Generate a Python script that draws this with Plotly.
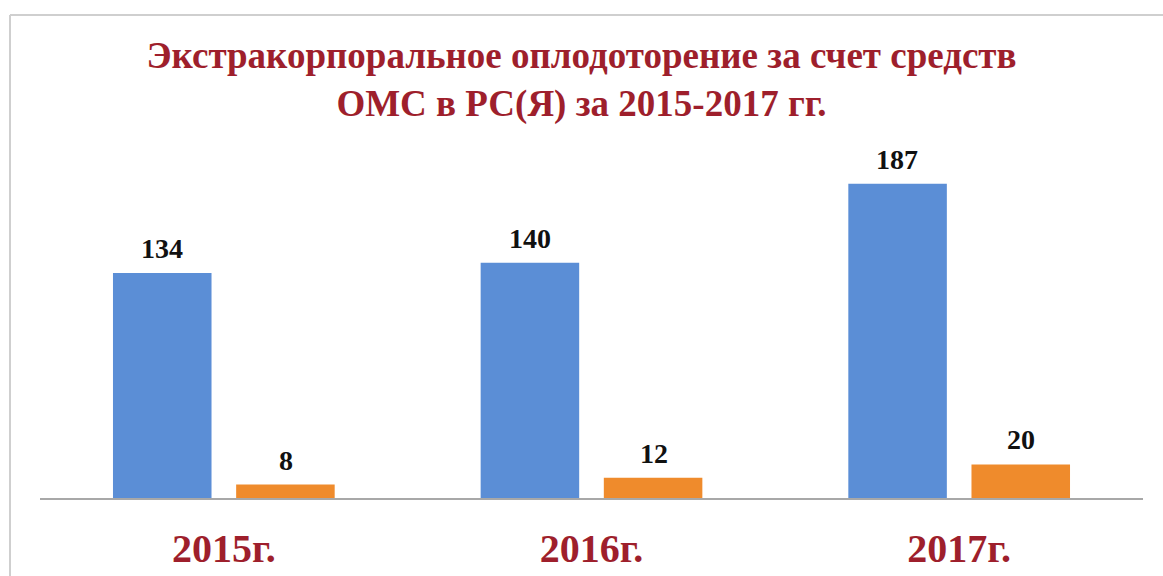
import plotly.graph_objects as go

# Data: IVF cycles funded by compulsory medical insurance (OMS), Sakha Republic
years = ["2015г.", "2016г.", "2017г."]
series_a = [134, 140, 187]
series_b = [8, 12, 20]

TITLE = "Экстракорпоральное оплодоторение за счет средств<br>ОМС в РС(Я) за 2015-2017 гг."

W, H = 1163, 576
ML, MR, MT, MB = 40, 20, 162, 78
plot_w = W - ML - MR
plot_h = H - MT - MB

BLUE = "#5B8ED6"
ORANGE = "#EF8B2C"
DARK_RED = "#9E1F2C"
SERIF = "Liberation Serif, Times New Roman, serif"

fig = go.Figure()
for vals, color, shift in ((series_a, BLUE, -62), (series_b, ORANGE, 62)):
    fig.add_trace(go.Bar(
        x=years, y=vals,
        marker=dict(color=color, line=dict(width=0)),
        hoverinfo="skip",
    ))
    # value labels above each bar
    for cat, v in zip(years, vals):
        fig.add_annotation(
            x=cat, y=v, xref="x", yref="y",
            text=str(v), showarrow=False,
            xanchor="center", yanchor="bottom",
            xshift=shift, yshift=7,
            font=dict(family=SERIF, size=28, color="#111111", weight="bold"),
        )

# light frame around the chart (left and top edges visible)
fx0 = (10 - ML) / plot_w
fy1 = (H - MB - 15) / plot_h
fig.add_shape(type="line", xref="paper", yref="paper",
              x0=fx0, x1=fx0, y0=-1, y1=fy1,
              line=dict(color="#CFCFCF", width=2))
fig.add_shape(type="line", xref="paper", yref="paper",
              x0=fx0, x1=1.2, y0=fy1, y1=fy1,
              line=dict(color="#CFCFCF", width=2))

fig.update_layout(
    width=W, height=H,
    margin=dict(l=ML, r=MR, t=MT, b=MB, autoexpand=False),
    paper_bgcolor="white",
    plot_bgcolor="white",
    showlegend=False,
    barmode="group",
    bargap=0.33,
    bargroupgap=0.2,
    title=dict(
        text=TITLE,
        x=0.5, xref="container", xanchor="center",
        y=1 - 68 / H, yref="container", yanchor="middle",
        font=dict(family=SERIF, size=37, color=DARK_RED, weight="bold"),
    ),
    xaxis=dict(
        showgrid=False, zeroline=False, automargin=False,
        showline=True, linecolor="#A8A8A8", linewidth=2,
        ticks="", ticklabelstandoff=14,
        tickfont=dict(family=SERIF, size=40, color=DARK_RED, weight="bold"),
    ),
    yaxis=dict(
        range=[0, 200], visible=False, showgrid=False, zeroline=False,
        automargin=False,
    ),
)

fig.write_html("out.html")
